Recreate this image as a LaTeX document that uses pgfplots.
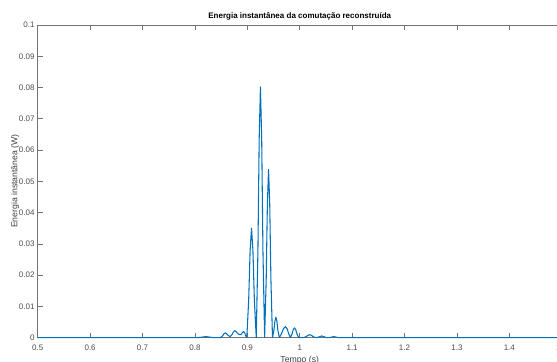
\documentclass[border=0pt]{standalone}
\usepackage{fontspec}
\setmainfont{Liberation Sans}
\usepackage{pgfplots}
\pgfplotsset{compat=1.18}
\definecolor{mblue}{rgb}{0,0.447,0.741}
\definecolor{axgray}{gray}{0.45}
\pgfplotstableread{
x y
0.500 0
0.808 0
0.821 0.0003
0.834 0
0.849 0
0.8526 0.0005
0.8553 0.0012
0.858 0.0015
0.8607 0.0012
0.8634 0.0007
0.867 0.0003
0.871 0.0010
0.8735 0.0018
0.876 0.0022
0.8785 0.0019
0.881 0.0014
0.884 0.0010
0.887 0.0009
0.889 0.0012
0.891 0.0017
0.893 0.0019
0.895 0.0015
0.8965 0.0007
0.899 0
0.9026 0.0121
0.9053 0.0278
0.908 0.0350
0.9107 0.0278
0.9134 0.0121
0.917 0
0.9202 0.0276
0.9226 0.0635
0.925 0.0802
0.9274 0.0635
0.9298 0.0276
0.933 0
0.936 0.0186
0.93825 0.0427
0.9405 0.0538
0.94275 0.0427
0.945 0.0186
0.948 0
0.9506 0.0022
0.95255 0.0052
0.9545 0.0065
0.95645 0.0052
0.9584 0.0022
0.961 0
0.9652 0.0012
0.9690 0.0028
0.9725 0.0035
0.9760 0.0028
0.9790 0.0012
0.982 0
0.9852 0.0011
0.9876 0.0025
0.9900 0.0031
0.9924 0.0025
0.9948 0.0011
0.998 0
1.008 0
1.0124 0.0003
1.0157 0.0007
1.019 0.0009
1.0223 0.0007
1.0256 0.0003
1.030 0
1.032 0
1.037 0.0002
1.042 0.0005
1.047 0.0002
1.052 0
1.057 0
1.065 0.0003
1.073 0
1.500 0
}\energy
\begin{document}
\begin{tikzpicture}
\begin{axis}[
  name=ax,
  at={(0,0)}, anchor=south west,
  scale only axis,
  width=393pt, height=234.4pt,
  xmin=0.5, xmax=1.5, ymin=0, ymax=0.1,
  xtick={0.5,0.6,0.7,0.8,0.9,1,1.1,1.2,1.3,1.4,1.5},
  xticklabels={0.5,0.6,0.7,0.8,0.9,1,1.1,1.2,1.3,1.4,1.5},
  ytick={0,0.01,0.02,0.03,0.04,0.05,0.06,0.07,0.08,0.09,0.1},
  yticklabels={0,0.01,0.02,0.03,0.04,0.05,0.06,0.07,0.08,0.09,0.1},
  scaled y ticks=false,
  tick align=inside,
  major tick length=3.75pt,
  axis line style={axgray, line width=0.5pt},
  every tick/.style={axgray, line width=0.4pt},
  tick label style={font=\fontsize{6}{7}\selectfont, text=black!70},
  xticklabel style={inner sep=0pt, anchor=north, yshift=-5.5pt},
  yticklabel style={inner sep=0pt, anchor=east, xshift=-2.25pt},
  title={Energia instantânea da comutação reconstruída},
  title style={font=\bfseries\fontsize{6}{7}\selectfont, inner sep=0pt, at={(axis description cs:0.5,1)}, anchor=south, yshift=-2.6pt},
  xlabel={Tempo (s)},
  xlabel style={font=\fontsize{6.5}{7.5}\selectfont, text=black!75, inner sep=0pt, at={(axis description cs:0.5,0)}, anchor=north, yshift=-13.8pt},
  ylabel={Energia instantânea (W)},
  ylabel style={font=\fontsize{6.5}{7.5}\selectfont, text=black!75, inner sep=0pt, at={(axis description cs:-0.0432,0.5)}, anchor=center},
  clip=false,
]
\addplot[mblue, line width=0.8pt, line join=round] table[x=x,y=y] {\energy};
\end{axis}
\pgfresetboundingbox
\path (-28.3pt,-17.6pt) rectangle (389.45pt,253.15pt);
\end{tikzpicture}
\end{document}
